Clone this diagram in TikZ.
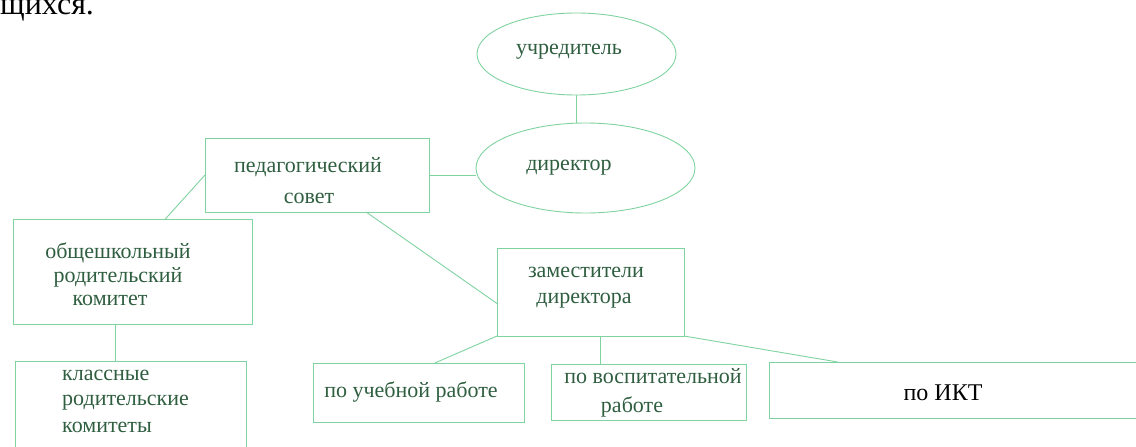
\documentclass[tikz,border=0pt]{standalone}
\usepackage{fontspec}
\setmainfont{Liberation Serif}
\usetikzlibrary{shapes.geometric}
\definecolor{lgreen}{HTML}{7FD3A0}
\definecolor{tgreen}{HTML}{2F5E40}
\tikzset{
  box/.style={draw=lgreen, line width=0.9pt, rectangle, inner sep=0pt, outer sep=0pt},
  oval/.style={draw=lgreen, line width=0.9pt, ellipse, inner sep=0pt, outer sep=0pt},
  lbl/.style={text=tgreen, anchor=base, inner sep=0pt, font=\fontsize{22}{26}\selectfont},
  link/.style={draw=lgreen, line width=0.9pt}
}
\begin{document}
\begin{tikzpicture}[x=1pt,y=-1pt]
\useasboundingbox (0,0) rectangle (1136,447);
\clip (0,0) rectangle (1136,447);
% fragment of the preceding text
\node[anchor=base west, inner sep=0pt, font=\fontsize{32}{38}\selectfont] (frag) at (0,14) {щихся.};
% shapes
\node[oval, minimum width=199pt, minimum height=82pt] (uch) at (576.5,54) {};
\node[oval, minimum width=219pt, minimum height=90pt] (dir) at (585.5,168) {};
\node[box, minimum width=224pt, minimum height=74pt] (ped) at (317,175) {};
\node[box, minimum width=239pt, minimum height=105pt] (obsh) at (132.5,271.5) {};
\node[box, minimum width=231pt, minimum height=92pt] (klass) at (130.5,407) {};
\node[box, minimum width=187pt, minimum height=88pt] (zam) at (590.5,292) {};
\node[box, minimum width=211pt, minimum height=59pt] (ucheb) at (418.5,392.5) {};
\node[box, minimum width=195pt, minimum height=56pt] (vosp) at (648.5,392) {};
\node[box, minimum width=380pt, minimum height=56pt] (ikt) at (959,390) {};
% labels
\node[lbl] (tuch) at (569,54) {учредитель};
\node[lbl] (tdir) at (569,170) {директор};
\node[lbl] (tped1) at (308,172) {педагогический};
\node[lbl] (tped2) at (309,203) {совет};
\node[lbl] (tobsh1) at (118,258) {общешкольный};
\node[lbl] (tobsh2) at (118,282) {родительский};
\node[lbl] (tobsh3) at (110,305) {комитет};
\node[lbl, anchor=base west] (tkl1) at (62,380) {классные};
\node[lbl, anchor=base west] (tkl2) at (62,405) {родительские};
\node[lbl, anchor=base west] (tkl3) at (62,432) {комитеты};
\node[lbl] (tzam1) at (586,277) {заместители};
\node[lbl] (tzam2) at (584,303) {директора};
\node[lbl] (tuchr) at (411,397) {по учебной работе};
\node[lbl] (tvos1) at (653,383) {по воспитательной};
\node[lbl] (tvos2) at (632,412) {работе};
\node[anchor=base, inner sep=0pt, text=black, font=\fontsize{24}{28}\selectfont] (tikt) at (943,400) {по ИКТ};
% connectors
\draw[link] (uch.south) -- (uch.south |- dir.north);
\draw[link] (ped.east) -- (ped.east -| dir.west);
\draw[link] (ped.west) -- (obsh.58);
\draw[link] (ped.-37.6) -- (zam.187.9);
\draw[link] (obsh.-108.4) -- (obsh.-108.4 |- klass.north);
\draw[link] (zam.south west) -- (ucheb.61);
\draw[link] (zam.-77.8) -- (zam.-77.8 |- vosp.north);
\draw[link] (zam.south east) -- (ikt.167);
\end{tikzpicture}
\end{document}
